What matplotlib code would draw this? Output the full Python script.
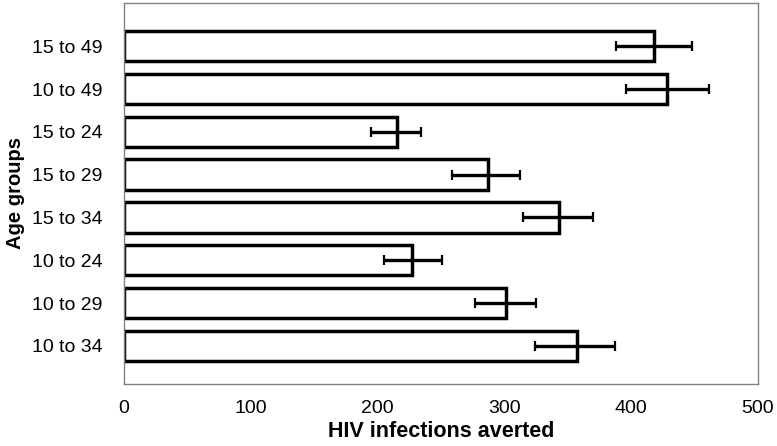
import matplotlib.pyplot as plt
import numpy as np

plt.rcParams['font.family'] = ['Liberation Sans', 'DejaVu Sans']

# top to bottom as in the chart
groups = ['15 to 49', '10 to 49', '15 to 24', '15 to 29', '15 to 34', '10 to 24', '10 to 29', '10 to 34']
averted = [418, 428, 215, 287, 343, 227, 301, 357]
lower = [388, 396, 195, 259, 315, 205, 277, 324]
upper = [448, 461, 234, 312, 370, 251, 325, 387]

vals = np.array(averted)
err = np.array([vals - np.array(lower), np.array(upper) - vals])
ypos = np.arange(len(groups))[::-1]

fig = plt.figure(figsize=(7.77, 4.46), dpi=100)
ax = fig.add_axes([0.1596, 0.139, 0.8159, 0.8543])

ax.barh(ypos, vals, height=0.71, color='white', edgecolor='black', linewidth=2.5)
ax.errorbar(vals, ypos, xerr=err, fmt='none', ecolor='black', elinewidth=2.4,
            capsize=3.5, capthick=1.6)

ax.set_xlim(0, 500)
ax.set_ylim(-0.89, 8.01)
ax.set_xticks([0, 100, 200, 300, 400, 500])
ax.set_yticks(ypos)
ax.set_yticklabels(groups)
ax.tick_params(length=0, labelsize=14)
ax.tick_params(axis='y', pad=15.5)
ax.tick_params(axis='x', pad=11.5)
for s in ax.spines.values():
    s.set_color('#808080')
    s.set_linewidth(1)

ax.set_xlabel('HIV infections averted', fontsize=15.5, fontweight='bold', labelpad=3)
ax.set_ylabel('Age groups', fontsize=14.5, fontweight='bold', labelpad=5)

plt.savefig('out.png', dpi=100)
